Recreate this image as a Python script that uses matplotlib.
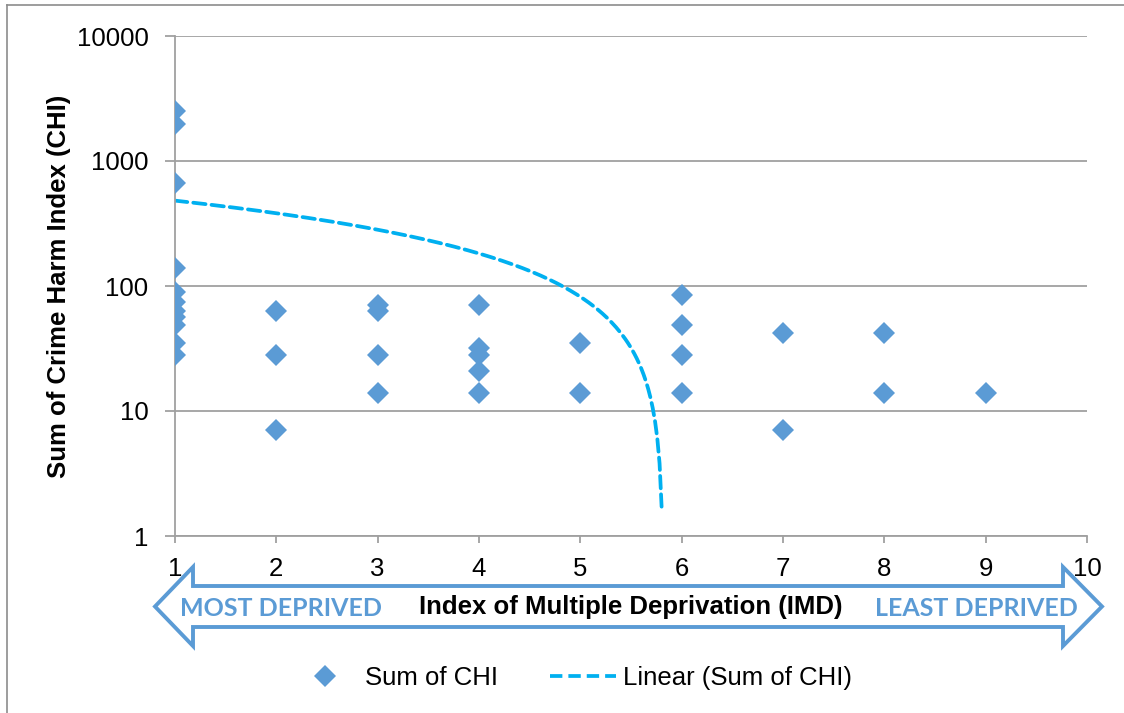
import numpy as np
import matplotlib
matplotlib.use("Agg")
import matplotlib.pyplot as plt
from matplotlib.patches import Polygon
from matplotlib.lines import Line2D

# Sum of Crime Harm Index (CHI) per area, by IMD decile
imd_decile = [1, 1, 1, 1, 1, 1, 1, 1, 1, 1, 1,
              2, 2, 2,
              3, 3, 3, 3,
              4, 4, 4, 4, 4,
              5, 5,
              6, 6, 6, 6,
              7, 7,
              8, 8,
              9]
chi_sum = [2520, 1960, 672, 140, 90, 75, 63, 56, 49, 35, 28,
           63, 28, 7,
           70, 63, 28, 14,
           70, 32, 28, 21, 14,
           35, 14,
           84, 49, 28, 14,
           42, 7,
           42, 14,
           14]

# linear trendline (Sum of CHI)
trend_intercept = 582
trend_slope = -100

x_ticks = [1, 2, 3, 4, 5, 6, 7, 8, 9, 10]
y_ticks = [1, 10, 100, 1000, 10000]

blue = "#5B9BD5"
trend_blue = "#00B0F0"
grid_grey = "#A0A0A0"

plt.rcParams['font.family'] = ['Liberation Sans', 'DejaVu Sans']

W, H = 1124, 713
fig = plt.figure(figsize=(W / 100, H / 100), dpi=100)
ax = fig.add_axes([175 / W, 1 - 536 / H, (1087 - 175) / W, (536 - 36) / H])

# scatter points
ax.plot(imd_decile, chi_sum, linestyle='none', marker='D', markersize=11.5,
        color=blue, markeredgewidth=0, label='Sum of CHI', zorder=3)

# trendline, only where it stays positive (log axis)
xs = np.linspace(1, 10, 400)
ys = trend_intercept + trend_slope * xs
ys = np.where(ys > 0, ys, np.nan)
ax.plot(xs, ys, color=trend_blue, linewidth=2.7, dashes=(3.3, 1.6),
        dash_capstyle='round', label='Linear (Sum of CHI)', zorder=2)

ax.set_yscale('log')
ax.set_xlim(1, 10)
ax.set_ylim(1, 10000)
ax.set_xticks(x_ticks)
ax.set_xticklabels([str(v) for v in x_ticks])
ax.set_yticks(y_ticks)
ax.set_yticklabels([str(v) for v in y_ticks])
ax.yaxis.set_minor_locator(matplotlib.ticker.NullLocator())

ax.grid(True, axis='y', color=grid_grey, linewidth=1.3)
ax.set_axisbelow(True)
for side in ['top', 'right']:
    ax.spines[side].set_visible(False)
for side in ['left', 'bottom']:
    ax.spines[side].set_color(grid_grey)
    ax.spines[side].set_linewidth(1.3)
ax.tick_params(axis='both', colors=grid_grey, labelcolor='black',
               labelsize=18.5, width=1.3)
ax.tick_params(axis='y', length=7, pad=12)
ax.tick_params(axis='x', length=5, pad=10)

ax.set_ylabel('Sum of Crime Harm Index (CHI)', fontsize=18.5,
              fontweight='bold', labelpad=4)

# double headed arrow under the x axis
def fx(px):
    return px / W

def fy(py):
    return 1 - py / H

arrow_pts = [(155, 606.5), (193, 567), (193, 586), (1063, 586), (1063, 567),
             (1102, 606.5), (1063, 646), (1063, 627), (193, 627), (193, 646)]
arrow = Polygon([(fx(a), fy(b)) for a, b in arrow_pts], closed=True,
                transform=fig.transFigure, facecolor='white', edgecolor=blue,
                linewidth=2.8, joinstyle='miter', zorder=1)
fig.add_artist(arrow)

fig.text(fx(180), fy(608), 'MOST DEPRIVED', color=blue, fontsize=18,
         fontweight='bold', family=['Lato', 'DejaVu Sans'],
         ha='left', va='center')
fig.text(fx(1078), fy(608), 'LEAST DEPRIVED', color=blue, fontsize=18,
         fontweight='bold', family=['Lato', 'DejaVu Sans'],
         ha='right', va='center')
fig.text(fx(631), fy(607), 'Index of Multiple Deprivation (IMD)',
         fontsize=18.5, fontweight='bold', ha='center', va='center')

# legend at the bottom
fig.legend(handles=[
    Line2D([], [], linestyle='none', marker='D', markersize=11.5, color=blue,
           markeredgewidth=0),
    Line2D([], [], color=trend_blue, linewidth=2.7, dashes=(3.3, 1.6))],
    labels=['Sum of CHI', 'Linear (Sum of CHI)'],
    loc='center', bbox_to_anchor=(fx(572), fy(678)), ncol=2, frameon=False,
    fontsize=18.5, handlelength=2.6, handletextpad=0.25, columnspacing=2.0)

# outer chart frame (cut off at right and bottom)
fig.add_artist(Line2D([fx(7), 1], [fy(5), fy(5)], transform=fig.transFigure,
                      color='#8C8C8C', linewidth=1.2))
fig.add_artist(Line2D([fx(7), fx(7)], [fy(5), 0], transform=fig.transFigure,
                      color='#8C8C8C', linewidth=1.2))

fig.savefig('out.png', dpi=100)
